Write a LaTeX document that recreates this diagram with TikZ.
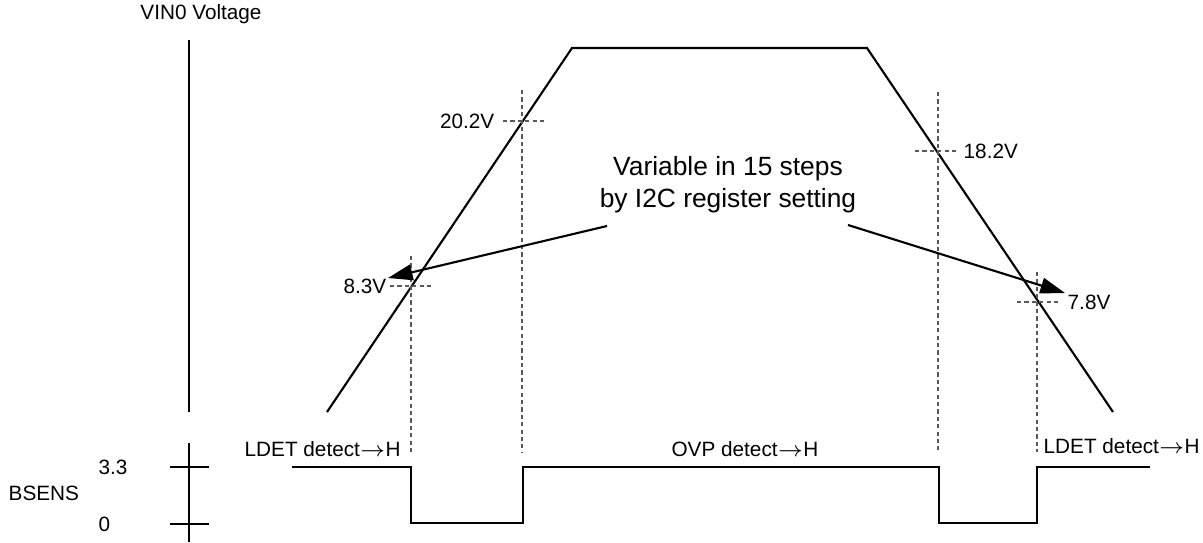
\documentclass[tikz,border=0pt]{standalone}
\usepackage{fontspec}
\setmainfont{Liberation Sans}
\usetikzlibrary{arrows.meta}
\newcommand{\toH}{$\rightarrow$H}
\tikzset{
  lbl/.style={font=\fontsize{5.9}{7}\selectfont, inner sep=0pt},
  big/.style={font=\fontsize{7.5}{9.1}\selectfont, inner sep=0pt, align=center},
  guide/.style={dash pattern=on 1.2pt off 0.9pt, gray!70!black, line width=0.3pt},
  sig/.style={line width=0.6pt},
}
\begin{document}
\begin{tikzpicture}
        \useasboundingbox (0,0) rectangle (12.03,5.42);
        % axis on the left
        \node[lbl] (vin) at (2.01,5.28) {VIN0 Voltage};
        \draw[sig] (1.89,5.02) -- (1.89,1.30);
        \draw[sig] (1.89,0.99) -- (1.89,0);
        \draw[sig] (1.70,0.75) -- (2.09,0.75);
        \draw[sig] (1.70,0.18) -- (2.09,0.18);
        \node[lbl,anchor=west] (hi) at (0.98,0.75) {3.3};
        \node[lbl,anchor=west] (lo) at (0.98,0.18) {0};
        \node[lbl,anchor=west] (bsens) at (0.08,0.49) {BSENS};
        % VIN0 ramp
        \coordinate (A) at (3.27,1.30);
        \coordinate (B) at (5.72,4.94);
        \coordinate (C) at (8.67,4.94);
        \coordinate (D) at (11.13,1.30);
        \draw[sig] (A) -- (B) -- (C) -- (D);
        % thresholds
        \draw[guide] (4.11,2.86) -- (4.11,0.90);
        \draw[guide] (5.22,4.52) -- (5.22,0.90);
        \draw[guide] (9.38,4.50) -- (9.38,0.90);
        \draw[guide] (10.37,2.70) -- (10.37,0.90);
        \draw[guide] (5.03,4.21) -- (5.47,4.21);
        \draw[guide] (3.90,2.56) -- (4.34,2.56);
        \draw[guide] (9.15,3.91) -- (9.58,3.91);
        \draw[guide] (10.17,2.40) -- (10.60,2.40);
        \node[lbl,anchor=east] (v202) at (4.95,4.21) {20.2V};
        \node[lbl,anchor=east] (v83) at (3.87,2.56) {8.3V};
        \node[lbl,anchor=west] (v182) at (9.63,3.91) {18.2V};
        \node[lbl,anchor=west] (v78) at (10.67,2.40) {7.8V};
        % note with arrows
        \node[big] (note) at (7.28,3.57) {Variable in 15 steps\\by I2C register setting};
        \coordinate (nl) at (6.07,3.16);
        \coordinate (nr) at (8.48,3.17);
        \coordinate (tipl) at (3.88,2.64);
        \coordinate (tipr) at (10.65,2.49);
        \draw[sig,-{Triangle[length=7pt,width=4.5pt]}] (nl) -- (tipl);
        \draw[sig,-{Triangle[length=7pt,width=4.5pt]}] (nr) -- (tipr);
        % BSENS output
        \draw[sig] (2.92,0.75) -- (4.11,0.75) -- (4.11,0.19) -- (5.23,0.19) -- (5.23,0.75)
          -- (9.39,0.75) -- (9.39,0.19) -- (10.37,0.19) -- (10.37,0.75) -- (11.50,0.75);
        \node[lbl,anchor=west] (ldl) at (2.44,0.93) {LDET detect\toH};
        \node[lbl] (ovp) at (7.45,0.93) {OVP detect\toH};
        \node[lbl,anchor=west] (ldr) at (10.43,0.96) {LDET detect\toH};
\end{tikzpicture}
\end{document}
